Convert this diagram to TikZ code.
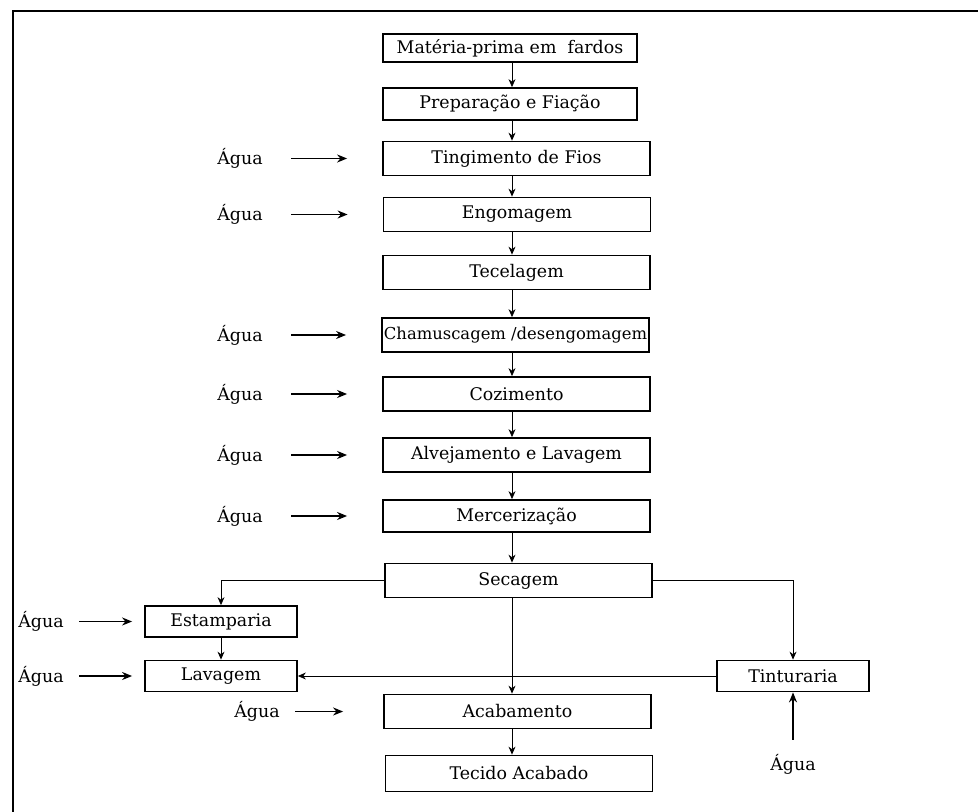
\documentclass[tikz,border=0pt]{standalone}
\usepackage{fontspec}
\setmainfont{DejaVu Serif}
\usetikzlibrary{arrows.meta}

\begin{document}
\begin{tikzpicture}[x=0.5pt,y=-0.5pt,
	etapa/.style={draw, line width=0.9pt, minimum width=133.5pt, minimum height=17pt, inner sep=0pt, font=\fontsize{8.7}{10}\selectfont},
	etapab/.style={etapa, minimum width=76pt, minimum height=15.5pt},
	agua/.style={inner sep=0pt, font=\fontsize{8.7}{10}\selectfont},
	seta/.style={-{Stealth[length=4pt,width=3.5pt]}, line width=0.4pt},
	setaagua/.style={-{Stealth[length=5pt,width=4pt]}, line width=0.75pt}]
		\useasboundingbox (0,0) rectangle (978,812);
		\draw[line width=1pt] (13,812) -- (13,11) -- (978,11);
		\coordinate (eixo) at (512,0);
		% coluna principal
		\node[etapa, minimum width=127pt, minimum height=14pt] (mat) at (510,48) {Matéria-prima em \ fardos};
		\node[etapa, minimum width=127pt, minimum height=16pt] (prep) at (510,104) {Preparação e Fiação};
		\node[etapa] (ting) at (516.5,158.5) {Tingimento de Fios};
		\node[etapa] (engo) at (517,214.5) {Engomagem};
		\node[etapa] (tece) at (516.5,272.5) {Tecelagem};
		\node[etapa, font=\fontsize{8.2}{10}\selectfont] (cham) at (515.5,335) {Chamuscagem /desengomagem};
		\node[etapa] (cozi) at (516.5,394) {Cozimento};
		\node[etapa] (alve) at (516.5,455) {Alvejamento e Lavagem};
		\node[etapa, minimum height=16pt] (merc) at (516.5,516) {Mercerização};
		\node[etapa] (seca) at (518.5,580.5) {Secagem};
		\node[etapab] (esta) at (221,621.5) {Estamparia};
		\node[etapab] (lava) at (221,676) {Lavagem};
		\node[etapab] (tint) at (793,676) {Tinturaria};
		\node[etapa] (acab) at (517.5,711.5) {Acabamento};
		\node[etapa, minimum height=18pt] (teci) at (519,773.5) {Tecido Acabado};
		% entradas de agua
		\node[agua] (a1) at (240,158.5) {Água};
		\node[agua] (a2) at (240,214.5) {Água};
		\node[agua] (a3) at (240,335) {Água};
		\node[agua] (a4) at (240,394) {Água};
		\node[agua] (a5) at (240,455) {Água};
		\node[agua] (a6) at (240,516) {Água};
		\node[agua] (a7) at (41,621.5) {Água};
		\node[agua] (a8) at (41,676) {Água};
		\node[agua] (a9) at (257,711.5) {Água};
		\node[agua] (a10) at (793,764) {Água};
		% fluxo
		\draw[seta] (mat.south -| eixo) -- (prep.north -| eixo);
		\draw[seta] (prep.south -| eixo) -- (ting.north -| eixo);
		\draw[seta] (ting.south -| eixo) -- (engo.north -| eixo);
		\draw[seta] (engo.south -| eixo) -- (tece.north -| eixo);
		\draw[seta] (tece.south -| eixo) -- (cham.north -| eixo);
		\draw[seta] (cham.south -| eixo) -- (cozi.north -| eixo);
		\draw[seta] (cozi.south -| eixo) -- (alve.north -| eixo);
		\draw[seta] (alve.south -| eixo) -- (merc.north -| eixo);
		\draw[seta] (merc.south -| eixo) -- (seca.north -| eixo);
		\draw[seta] (seca.west) -| (esta.north);
		\draw[seta] (seca.east) -| (tint.north);
		\draw[seta] (seca.south -| eixo) -- (acab.north -| eixo);
		\draw[seta] (esta.south) -- (lava.north);
		\draw[seta] (tint.west) -- (lava.east);
		\draw[seta] (acab.south -| eixo) -- (teci.north -| eixo);
		\foreach \a/\b in {a1/ting, a2/engo, a3/cham, a4/cozi, a5/alve, a6/merc}
			\draw[setaagua, shorten <=14pt, shorten >=17.5pt] (\a) -- (\b);
		\draw[setaagua, shorten <=7.5pt, shorten >=6pt] (a7) -- (esta);
		\draw[setaagua, shorten <=7.5pt, shorten >=6pt] (a8) -- (lava);
		\draw[setaagua, shorten <=7.5pt, shorten >=20pt] (a9) -- (acab);
		\draw[setaagua, shorten <=7pt] (a10) -- (tint);
	\end{tikzpicture}
\end{document}
